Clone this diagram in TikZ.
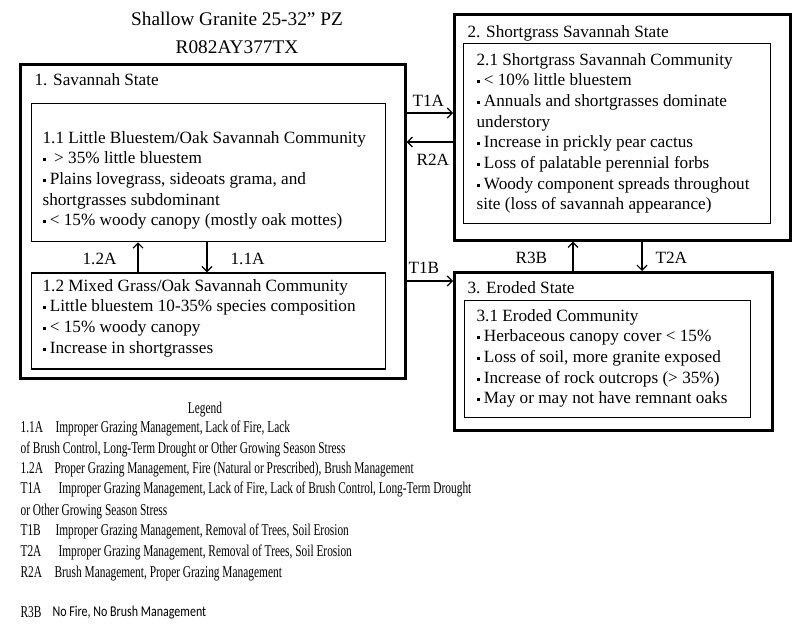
\documentclass[tikz,border=0pt]{standalone}
\usepackage{fontspec}
\setmainfont{Liberation Serif}
\newfontfamily\legendserif[FakeStretch=0.69]{Liberation Serif}
\newfontfamily\legendsans[FakeStretch=0.8]{Carlito}
\usetikzlibrary{arrows.meta,positioning}

\newcommand{\sqbul}{\raisebox{0.3ex}{\rule{3pt}{3pt}}}
\newcommand{\bodyfont}{\fontsize{17.2}{20.7}\selectfont}
\newcommand{\legfont}{\legendserif\fontsize{16.5}{21}\selectfont}

\tikzset{
  statebox/.style={draw, line width=2.6pt, anchor=north west, inner sep=0pt},
  commbox/.style={draw, line width=1.3pt, inner sep=0pt},
  txt/.style={anchor=north west, inner sep=0pt, align=left, font=\bodyfont,
    execute at begin node=\strut},
  lab/.style={anchor=base west, inner sep=0pt, font=\bodyfont},
  leg/.style={anchor=base west, inner sep=0pt, font=\legfont},
}

\begin{document}
\begin{tikzpicture}[x=1pt,y=-1pt,->,>={Straight Barb[length=5pt,width=10pt]},
        line width=1.2pt]

      \useasboundingbox (0,0) rectangle (800,634);

      % title
      \node[anchor=base, font=\fontsize{19.3}{22}\selectfont] (title) at (237,26) {Shallow Granite 25-32'' PZ};
      \node[anchor=base, font=\fontsize{19.3}{22}\selectfont] (code) at (237,53) {R082AY377TX};

      % states
      \node[statebox, minimum width=385pt, minimum height=314pt] (S1) at (19,63) {};
      \node[statebox, minimum width=336pt, minimum height=226pt] (S2) at (453,13) {};
      \node[statebox, minimum width=318pt, minimum height=158pt] (S3) at (453,271) {};

      % communities
      \node[commbox, minimum width=354pt, minimum height=138pt, below right=40pt and 12pt of S1.north west] (B11) {};
      \node[commbox, minimum width=354pt, minimum height=96pt, below right=30pt and 0pt of B11.south west] (B12) {};
      \node[commbox, minimum width=307pt, minimum height=180pt, below right=30pt and 10pt of S2.north west] (B21) {};
      \node[commbox, minimum width=286pt, minimum height=117pt, below right=29pt and 11pt of S3.north west] (B31) {};

      % texts
      \node[txt] (S1t) at (34,70.5) {1. Savannah State};
      \node[txt] (B11t) at (42,130.5) {1.1 Little Bluestem/Oak Savannah Community\\
        \sqbul\ \ > 35\% little bluestem\\
        \sqbul\ Plains lovegrass, sideoats grama, and\\
        shortgrasses subdominant\\
        \sqbul\ < 15\% woody canopy (mostly oak mottes)};
      \node[txt] (B12t) at (42,278.5) {1.2 Mixed Grass/Oak Savannah Community\\
        \sqbul\ Little bluestem 10-35\% species composition\\
        \sqbul\ < 15\% woody canopy\\
        \sqbul\ Increase in shortgrasses};
      \node[txt] (S2t) at (467,22.5) {2. Shortgrass Savannah State};
      \node[txt] (B21t) at (476,52.5) {2.1 Shortgrass Savannah Community\\
        \sqbul\ < 10\% little bluestem\\
        \sqbul\ Annuals and shortgrasses dominate\\
        understory\\
        \sqbul\ Increase in prickly pear cactus\\
        \sqbul\ Loss of palatable perennial forbs\\
        \sqbul\ Woody component spreads throughout\\
        site (loss of savannah appearance)};
      \node[txt] (S3t) at (467,278.5) {3. Eroded State};
      \node[txt] (B31t) at (476,308.5) {3.1 Eroded Community\\
        \sqbul\ Herbaceous canopy cover < 15\%\\
        \sqbul\ Loss of soil, more granite exposed\\
        \sqbul\ Increase of rock outcrops (> 35\%)\\
        \sqbul\ May or may not have remnant oaks};

      % transitions
      \draw ([yshift=-50pt]S1.north east) -- ([yshift=-100pt]S2.north west);
      \draw ([yshift=-129pt]S2.north west) -- ([yshift=-79pt]S1.north east);
      \draw ([yshift=-218pt]S1.north east) -- ([yshift=-10pt]S3.north west);
      \draw ([xshift=107pt]B12.north west) -- ([xshift=107pt]B11.south west);
      \draw ([xshift=176pt]B11.south west) -- ([xshift=176pt]B12.north west);
      \draw ([xshift=120pt]S3.north west) -- ([xshift=120pt]S2.south west);
      \draw ([xshift=189pt]S2.south west) -- ([xshift=189pt]S3.north west);

      \node[lab] (lT1A) at (412,106) {T1A};
      \node[lab] (lR2A) at (416,165) {R2A};
      \node[lab] (lT1B) at (408,273) {T1B};
      \node[lab] (l12A) at (82,264) {1.2A};
      \node[lab] (l11A) at (230,264) {1.1A};
      \node[lab] (lR3B) at (515,263) {R3B};
      \node[lab] (lT2A) at (655,263) {T2A};

      % legend
      \node[leg, anchor=base] (leg) at (205,413) {Legend};
      \node[leg] (g11A) at (20,432) {1.1A};
      \node[leg] (g11At) at (55,432) {Improper Grazing Management, Lack of Fire, Lack};
      \node[leg] (g11Au) at (20,453) {of Brush Control, Long-Term Drought or Other Growing Season Stress};
      \node[leg] (g12A) at (20,473) {1.2A};
      \node[leg] (g12At) at (54,473) {Proper Grazing Management, Fire (Natural or Prescribed), Brush Management};
      \node[leg] (gT1A) at (20,493) {T1A};
      \node[leg] (gT1At) at (58,493) {Improper Grazing Management, Lack of Fire, Lack of Brush Control, Long-Term Drought};
      \node[leg] (gT1Au) at (20,515) {or Other Growing Season Stress};
      \node[leg] (gT1B) at (20,535) {T1B};
      \node[leg] (gT1Bt) at (55,535) {Improper Grazing Management, Removal of Trees, Soil Erosion};
      \node[leg] (gT2A) at (20,556) {T2A};
      \node[leg] (gT2At) at (58,556) {Improper Grazing Management, Removal of Trees, Soil Erosion};
      \node[leg] (gR2A) at (20,577) {R2A};
      \node[leg] (gR2At) at (54,577) {Brush Management, Proper Grazing Management};
      \node[leg] (gR3B) at (20,617) {R3B};
      \node[leg, font=\legendsans\fontsize{15}{20}\selectfont] (gR3Bt) at (52,616) {No Fire, No Brush Management};

    \end{tikzpicture}
\end{document}
